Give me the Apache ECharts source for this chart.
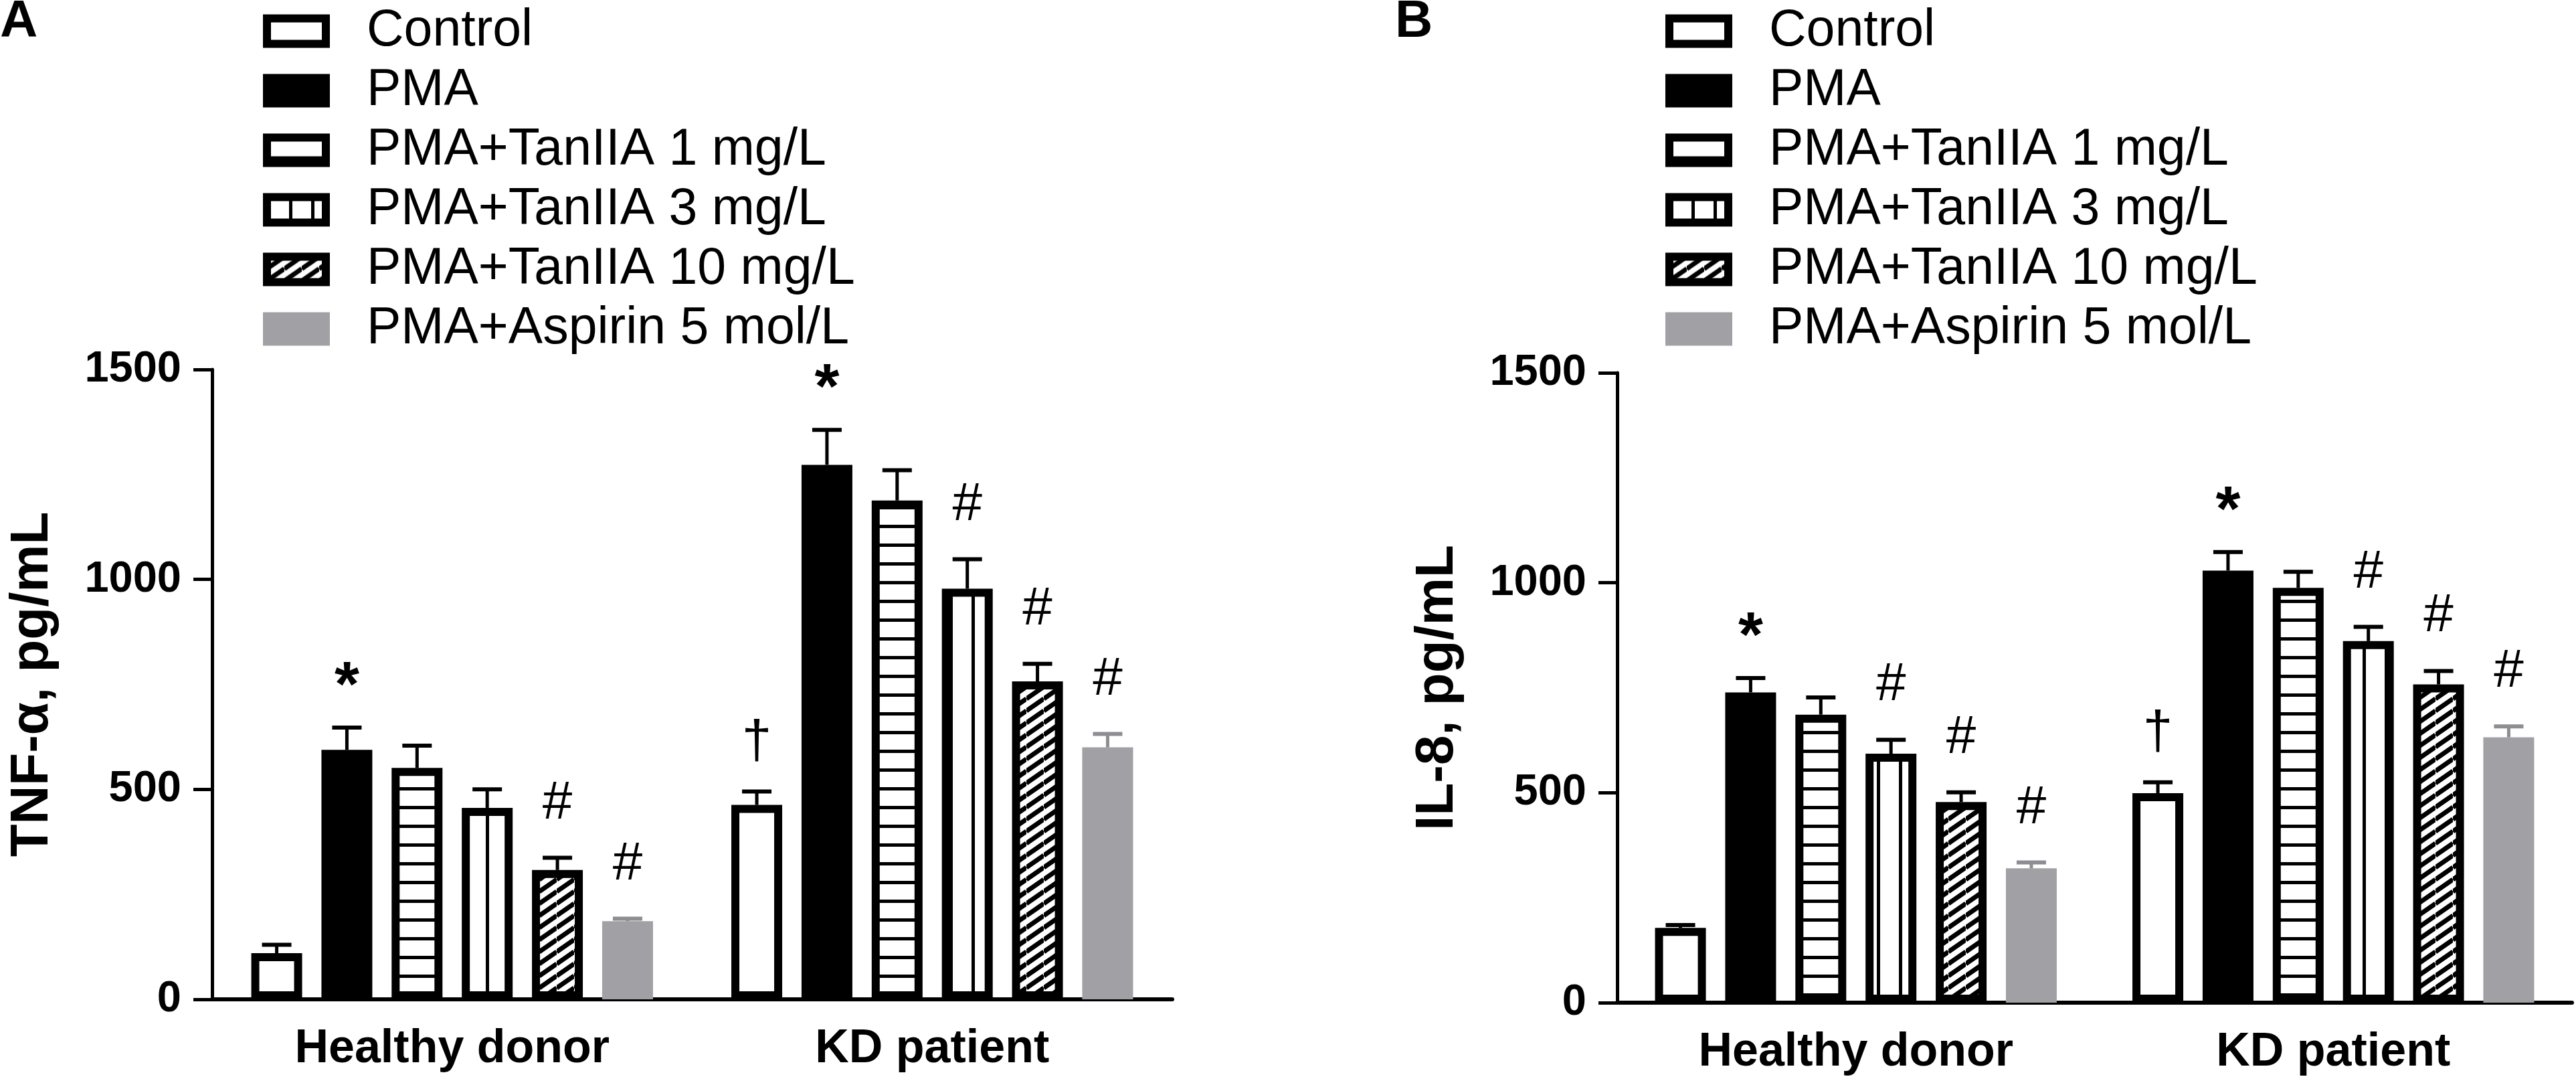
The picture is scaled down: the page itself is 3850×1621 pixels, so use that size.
<!DOCTYPE html>
<html>
<head>
    <meta charset="utf-8" />
    <title>TNF-α / IL-8</title>
    <script src="https://cdn.jsdelivr.net/npm/echarts@6/dist/echarts.min.js"></script>
    <style>
        html, body { margin: 0; padding: 0; background: #fff; }
        #main { width: 3850px; height: 1621px; }
    </style>
</head>
<body>
<div id="main"></div>
<script type="text/javascript">
    // categories / legend names
    let groups = ['Healthy donor', 'KD patient'];
    let treatments = ['Control', 'PMA', 'PMA+TanIIA 1 mg/L', 'PMA+TanIIA 3 mg/L', 'PMA+TanIIA 10 mg/L', 'PMA+Aspirin 5 mol/L'];
    let yTicks = [0, 500, 1000, 1500];

    // A: TNF-α, pg/mL (mean, SEM, significance mark) per treatment
    let tnfHealthy = [110, 594, 551, 456, 308, 186];
    let tnfHealthySem = [20, 53, 53, 44, 29, 6];
    let tnfKD = [463, 1273, 1188, 978, 757, 600];
    let tnfKDSem = [32, 83, 72, 70, 42, 32];
    let tnfMarkHealthy = ['', '*', '', '', '#', '#'];
    let tnfMarkKD = ['†', '*', '', '#', '#', '#'];

    // B: IL-8, pg/mL
    let il8Healthy = [178, 739, 686, 593, 478, 320];
    let il8HealthySem = [7, 34, 41, 33, 23, 14];
    let il8KD = [499, 1029, 988, 861, 758, 632];
    let il8KDSem = [26, 44, 38, 34, 32, 26];
    let il8MarkHealthy = ['', '*', '', '#', '#', '#'];
    let il8MarkKD = ['†', '*', '', '#', '#', '#'];

    let font = "'Liberation Sans', Arial, sans-serif";
    let barW = 76, barGapPct = 38;
    let pitch = barW * (1 + barGapPct / 100);
    // mark text look and how far it sits above the error cap
    let markStyle = {
        '#': {size: 80, weight: 'normal', lift: 41},
        '*': {size: 95, weight: 'bold', lift: 12},
        '†': {size: 80, weight: 'normal', lift: 33}
    };

    // fill patterns
    function makePattern(w, h, draw) {
        let c = document.createElement('canvas');
        c.width = w;
        c.height = h;
        let ctx = c.getContext('2d');
        ctx.fillStyle = '#fff';
        ctx.fillRect(0, 0, w, h);
        ctx.fillStyle = '#000';
        ctx.strokeStyle = '#000';
        draw(ctx, w, h);
        return {image: c, repeat: 'repeat'};
    }
    let hStripe = makePattern(8, 28, function (ctx, w) { ctx.fillRect(0, 0, w, 5); });
    let vStripe = makePattern(33, 8, function (ctx, w, h) { ctx.fillRect(0, 0, 5, h); });
    let diag = makePattern(26, 18, function (ctx, w, h) {
        ctx.lineWidth = 7;
        for (let k = -1; k <= 1; k++) {
            ctx.beginPath();
            ctx.moveTo(0, h + k * h);
            ctx.lineTo(w, k * h);
            ctx.stroke();
        }
    });
    let gray = '#a0a0a5';
    let fills = ['#fff', '#000', hStripe, vStripe, diag, gray];
    let borders = ['#000', '#000', '#000', '#000', '#000', gray];

    function panelSeries(p, healthy, kd, hSem, kSem, hMark, kMark) {
        let out = treatments.map(function (name, j) {
            return {
                name: name, type: 'bar', xAxisIndex: p, yAxisIndex: p,
                barWidth: barW, barGap: barGapPct + '%',
                data: [healthy[j], kd[j]],
                itemStyle: {color: fills[j], borderColor: borders[j], borderWidth: 12}
            };
        });
        let rows = [], marks = [];
        treatments.forEach(function (name, j) {
            rows.push([0, healthy[j], hSem[j], j]);
            marks.push(hMark[j]);
            rows.push([1, kd[j], kSem[j], j]);
            marks.push(kMark[j]);
        });
        out.push({
            name: 'err' + p, type: 'custom', xAxisIndex: p, yAxisIndex: p, z: 5, silent: true,
            data: rows,
            renderItem: function (params, api) {
                let g = api.value(0), mean = api.value(1), sem = api.value(2), j = api.value(3);
                let base = api.coord([g, mean]);
                let top = api.coord([g, mean + sem]);
                let x = base[0] + (j - 2.5) * pitch;
                let col = j === 5 ? '#8e8e92' : '#000';
                let kids = [
                    {type: 'line', shape: {x1: x, y1: base[1], x2: x, y2: top[1]}, style: {stroke: col, lineWidth: 5}},
                    {type: 'line', shape: {x1: x - 22, y1: top[1], x2: x + 22, y2: top[1]}, style: {stroke: col, lineWidth: 6}}
                ];
                let m = marks[params.dataIndex];
                if (m) {
                    let s = markStyle[m];
                    kids.push({type: 'text', x: x, y: top[1] - s.lift,
                        style: {text: m, fontFamily: font, fontSize: s.size, fontWeight: s.weight,
                            fill: '#000', align: 'center', verticalAlign: 'bottom'}});
                }
                return {type: 'group', children: kids};
            }
        });
        return out;
    }

    let grids = [
        {left: 317, top: 552, width: 1435, height: 941},
        {left: 2417, top: 557, width: 1427, height: 941}
    ];
    let yNames = ['TNF-α, pg/mL', 'IL-8, pg/mL'];
    let panelTitle = {fontFamily: font, fontWeight: 'bold', fontSize: 78, color: '#000'};

    let option = {
        animation: false,
        backgroundColor: '#fff',
        title: [
            {text: 'A', left: 0, top: -6, padding: 0, textStyle: panelTitle},
            {text: 'B', left: 2085, top: -6, padding: 0, textStyle: panelTitle}
        ],
        legend: [393, 2489].map(function (lx) {
            return {
                orient: 'vertical', left: lx, top: 8, padding: 0,
                icon: 'rect', itemWidth: 88, itemHeight: 38, itemGap: 12,
                selectedMode: false, data: treatments,
                itemStyle: {borderWidth: 12},
                textStyle: {fontFamily: font, fontSize: 77, lineHeight: 77, color: '#000', padding: [0, 0, 0, 56]}
            };
        }),
        grid: grids,
        xAxis: [0, 1].map(function (p) {
            return {
                type: 'category', gridIndex: p, data: groups,
                axisLine: {lineStyle: {color: '#000', width: 6}},
                axisTick: {alignWithLabel: true, length: 27, lineStyle: {color: '#000', width: 5}},
                axisLabel: {fontFamily: font, fontWeight: 'bold', fontSize: 70, color: '#000', margin: 40}
            };
        }),
        yAxis: [0, 1].map(function (p) {
            return {
                type: 'value', gridIndex: p, min: 0, max: 1500, interval: 500,
                name: yNames[p], nameLocation: 'middle', nameGap: 228, nameRotate: 90,
                nameTextStyle: {fontFamily: font, fontWeight: 'bold', fontSize: 80, color: '#000'},
                axisLine: {show: true, lineStyle: {color: '#000', width: 5}},
                axisTick: {show: true, length: 28, lineStyle: {color: '#000', width: 5}, customValues: yTicks},
                splitLine: {show: false},
                axisLabel: {fontFamily: font, fontWeight: 'bold', fontSize: 65, color: '#000', margin: 46,
                    customValues: yTicks, formatter: function (v) { return String(v); }}
            };
        }),
        series: panelSeries(0, tnfHealthy, tnfKD, tnfHealthySem, tnfKDSem, tnfMarkHealthy, tnfMarkKD)
            .concat(panelSeries(1, il8Healthy, il8KD, il8HealthySem, il8KDSem, il8MarkHealthy, il8MarkKD))
    };

    let myChart = echarts.init(document.getElementById('main'));
    myChart.setOption(option);
</script>
</body>
</html>
